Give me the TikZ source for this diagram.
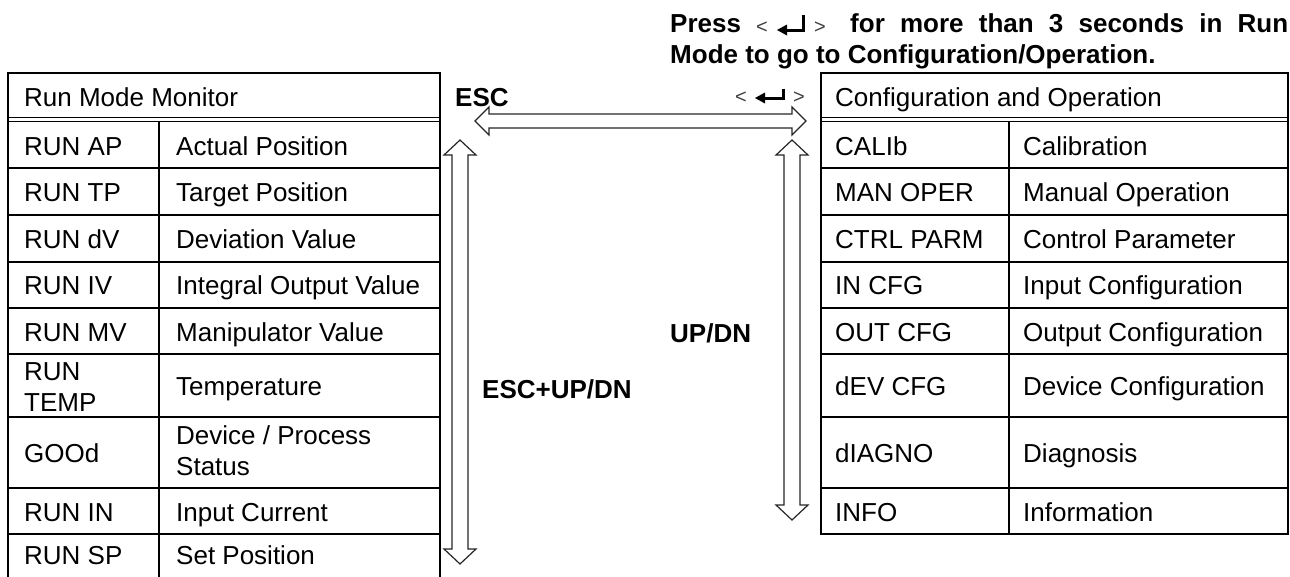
\documentclass[tikz,border=0pt]{standalone}
\usepackage{fontspec}
\setmainfont{Liberation Sans}
\begin{document}
\begin{tikzpicture}[x=1pt,y=-1pt,
  cell/.style={anchor=base west, inner sep=0pt, font=\fontsize{26}{31}\selectfont},
  cellm/.style={anchor=west, inner sep=0pt, align=left, font=\fontsize{26}{30.5}\selectfont},
  lbl/.style={anchor=base west, inner sep=0pt, font=\fontsize{26}{30}\selectfont\bfseries},
  ang/.style={anchor=base west, inner sep=0pt, font=\fontsize{20}{22}\selectfont, text=black!75},
  tbl/.style={line width=1.8pt},
  dbl/.style={line width=1.4pt},
  arr/.style={draw=black!85, line width=1.2pt, fill=white, line join=miter},
  ret/.style={line width=3pt}]
\useasboundingbox (0,0) rectangle (1290,576);
\clip (0,0) rectangle (1290,576);

% ---------- left table ----------
\draw[tbl] (8,73) rectangle (440,590);
\draw[dbl] (8,117.3) -- (440,117.3);
\draw[dbl] (8,121.5) -- (440,121.5);
\draw[tbl] (159,121.5) -- (159,590);
\foreach \yy in {168,215,262,308,354,417,488,534}
  \draw[tbl] (8,\yy) -- (440,\yy);

\node[cell] (lh) at (24,106) {Run Mode Monitor};
\node[cell] (l1a) at (24,155) {RUN AP};   \node[cell] (l1b) at (176,155) {Actual Position};
\node[cell] (l2a) at (24,201) {RUN TP};   \node[cell] (l2b) at (176,201) {Target Position};
\node[cell] (l3a) at (24,248) {RUN dV};   \node[cell] (l3b) at (176,248) {Deviation Value};
\node[cell] (l4a) at (24,294) {RUN IV};   \node[cell] (l4b) at (176,294) {Integral Output Value};
\node[cell] (l5a) at (24,341) {RUN MV};   \node[cell] (l5b) at (176,341) {Manipulator Value};
\node[cellm] (l6a) at (24,387.2) {RUN\\TEMP}; \node[cell] (l6b) at (176,395) {Temperature};
\node[cell] (l7a) at (24,462) {GOOd};     \node[cellm] (l7b) at (176,450.7) {Device / Process\\Status};
\node[cell] (l8a) at (24,521) {RUN IN};   \node[cell] (l8b) at (176,521) {Input Current};
\node[cell] (l9a) at (24,564) {RUN SP};   \node[cell] (l9b) at (176,564) {Set Position};

% ---------- right table ----------
\draw[tbl] (821,73) rectangle (1288,534);
\draw[dbl] (821,117.3) -- (1288,117.3);
\draw[dbl] (821,121.5) -- (1288,121.5);
\draw[tbl] (1009,121.5) -- (1009,534);
\foreach \yy in {168,215,262,308,354,417,488}
  \draw[tbl] (821,\yy) -- (1288,\yy);

\node[cell] (rh) at (835,106) {Configuration and Operation};
\node[cell] (r1a) at (835,155) {CALIb};     \node[cell] (r1b) at (1023,155) {Calibration};
\node[cell] (r2a) at (835,201) {MAN OPER};  \node[cell] (r2b) at (1023,201) {Manual Operation};
\node[cell] (r3a) at (835,248) {CTRL PARM}; \node[cell] (r3b) at (1023,248) {Control Parameter};
\node[cell] (r4a) at (835,294) {IN CFG};    \node[cell] (r4b) at (1023,294) {Input Configuration};
\node[cell] (r5a) at (835,341) {OUT CFG};   \node[cell] (r5b) at (1023,341) {Output Configuration};
\node[cell] (r6a) at (835,395) {dEV CFG};   \node[cell] (r6b) at (1023,395) {Device Configuration};
\node[cell] (r7a) at (835,462) {dIAGNO};    \node[cell] (r7b) at (1023,462) {Diagnosis};
\node[cell] (r8a) at (835,521) {INFO};      \node[cell] (r8b) at (1023,521) {Information};

% ---------- arrows ----------
\draw[arr] (475,121) -- (489,107) -- (489,114) -- (792,114) -- (792,107) -- (806,121)
  -- (792,135) -- (792,128) -- (489,128) -- (489,135) -- cycle;
\draw[arr] (460,140) -- (476,155) -- (468,155) -- (468,549) -- (476,549) -- (460,564)
  -- (444,549) -- (452,549) -- (452,155) -- (444,155) -- cycle;
\draw[arr] (792,140) -- (808,155) -- (800,155) -- (800,505) -- (808,505) -- (792,520)
  -- (776,505) -- (784,505) -- (784,155) -- (776,155) -- cycle;

% ---------- labels ----------
\node[lbl] (esc) at (455,106) {ESC};
\node[lbl] (updn) at (670,342) {UP/DN};
\node[lbl] (escupdn) at (482,398) {ESC+UP/DN};

\node[ang] (lt2) at (735,103) {<};
\draw[ret] (783,88.5) -- (783,98) -- (764,98);
\fill (755,98) -- (765,92.5) -- (765,103.5) -- cycle;
\node[ang] (gt2) at (793,103) {>};

% ---------- note ----------
\node[lbl] (press) at (670,32.5) {Press};
\node[ang] (lt1) at (756,33) {<};
\draw[ret] (803,14.5) -- (803,30) -- (785,30);
\fill (777,30) -- (787,24.5) -- (787,35.5) -- cycle;
\node[ang] (gt1) at (814,33) {>};
\node[lbl] (note1) at (850,32.5) {\makebox[438pt][s]{for more than 3 seconds in Run}};
\node[lbl] (note2) at (670,63.3) {Mode to go to Configuration/Operation.};
\end{tikzpicture}
\end{document}
